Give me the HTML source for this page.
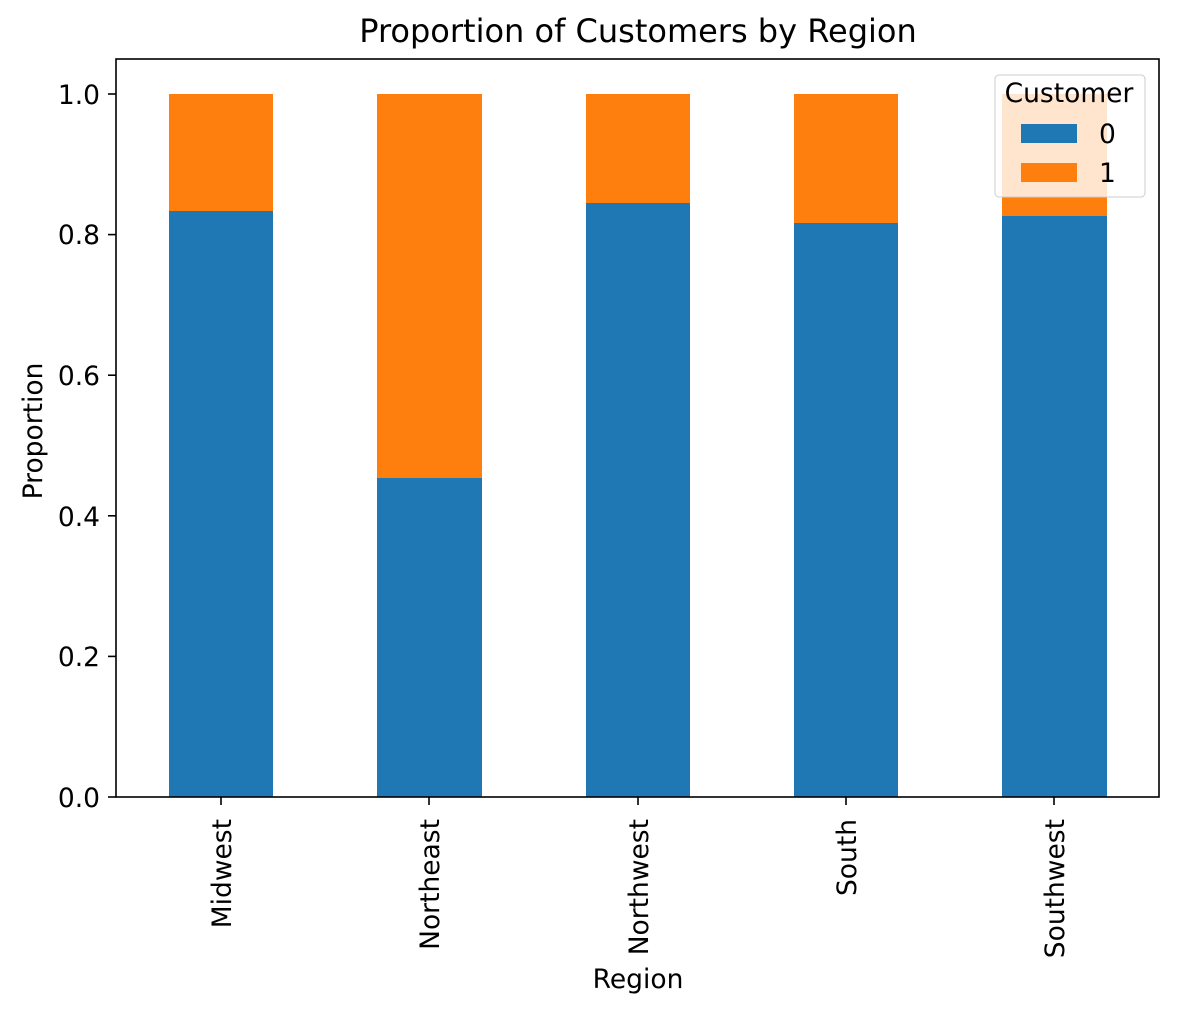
<!DOCTYPE html>
<html><head><style>body{margin:0;background:#fff}svg{display:block}text{font-family:"DejaVu Sans","Liberation Sans",sans-serif;fill:#000}</style></head><body>
<svg width="1177" height="1013" xmlns="http://www.w3.org/2000/svg">
<rect width="1177" height="1013" fill="#fff"/>
<g>
<rect x="169" y="94" width="104" height="117" fill="#ff7f0e"/><rect x="169" y="211" width="104" height="586" fill="#1f77b4"/>
<rect x="377" y="94" width="105" height="384" fill="#ff7f0e"/><rect x="377" y="478" width="105" height="319" fill="#1f77b4"/>
<rect x="586" y="94" width="104" height="109" fill="#ff7f0e"/><rect x="586" y="203" width="104" height="594" fill="#1f77b4"/>
<rect x="794" y="94" width="104" height="129" fill="#ff7f0e"/><rect x="794" y="223" width="104" height="574" fill="#1f77b4"/>
<rect x="1002" y="94" width="105" height="122" fill="#ff7f0e"/><rect x="1002" y="216" width="105" height="581" fill="#1f77b4"/>
</g>
<rect x="116" y="59" width="1043" height="738" fill="none" stroke="#000" stroke-width="1.6"/>
<g stroke="#000" stroke-width="1.6">
<line x1="108" y1="797" x2="116" y2="797"/><line x1="108" y1="656.4" x2="116" y2="656.4"/><line x1="108" y1="515.8" x2="116" y2="515.8"/><line x1="108" y1="375.2" x2="116" y2="375.2"/><line x1="108" y1="234.6" x2="116" y2="234.6"/><line x1="108" y1="94" x2="116" y2="94"/>
<line x1="221" y1="797" x2="221" y2="805"/><line x1="429" y1="797" x2="429" y2="805"/><line x1="638" y1="797" x2="638" y2="805"/><line x1="846" y1="797" x2="846" y2="805"/><line x1="1054" y1="797" x2="1054" y2="805"/>
</g>
<g style="font-size:26.5px" text-anchor="end">
<text x="100" y="807">0.0</text><text x="100" y="666">0.2</text><text x="100" y="526">0.4</text><text x="100" y="385">0.6</text><text x="100" y="244">0.8</text><text x="100" y="104">1.0</text>
</g>
<g style="font-size:26.5px" text-anchor="end">
<text transform="translate(231,819) rotate(-90)">Midwest</text>
<text transform="translate(439,819) rotate(-90)">Northeast</text>
<text transform="translate(648,819) rotate(-90)">Northwest</text>
<text transform="translate(856,819) rotate(-90)">South</text>
<text transform="translate(1064,819) rotate(-90)">Southwest</text>
</g>
<text x="638" y="988" style="font-size:26.5px" text-anchor="middle">Region</text>
<text transform="translate(42,431) rotate(-90)" style="font-size:26.5px" text-anchor="middle">Proportion</text>
<text x="638" y="42" style="font-size:32px" text-anchor="middle">Proportion of Customers by Region</text>
<rect x="995" y="75" width="150" height="122" rx="4" fill="#fff" fill-opacity="0.8" stroke="#ccc" stroke-width="1"/>
<text x="1069" y="102" style="font-size:26.5px" text-anchor="middle">Customer</text>
<rect x="1021" y="124" width="56" height="19" fill="#1f77b4"/>
<text x="1099" y="143" style="font-size:26.5px">0</text>
<rect x="1021" y="163" width="56" height="19" fill="#ff7f0e"/>
<text x="1099" y="182" style="font-size:26.5px">1</text>
</svg>
</body></html>
